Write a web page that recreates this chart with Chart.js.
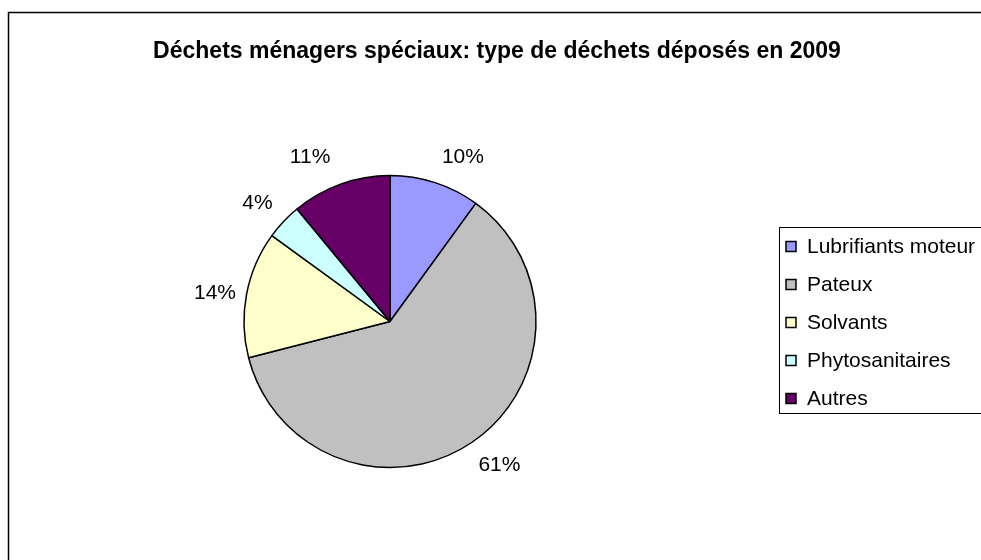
<!DOCTYPE html>
<html><head><meta charset="utf-8">
<script src="https://cdn.jsdelivr.net/npm/chart.js@4"></script>
<style>html,body{margin:0;padding:0;background:#fff;overflow:hidden}</style>
</head><body>
<canvas id="c" width="981" height="560"></canvas>
<script>
const titleText = "Déchets ménagers spéciaux: type de déchets déposés en 2009";
const categories = ["Lubrifiants moteur", "Pateux", "Solvants", "Phytosanitaires", "Autres"];
const shares = [10, 61, 14, 4, 11];
const sliceColors = ["#9999FF", "#C0C0C0", "#FFFFCC", "#CCFFFF", "#660066"];
const labelNudge = [[21, -5], [15, 5], [-10, 3], [-10, -3], [-23, -6]];

const FONT = "'Liberation Sans', Arial, sans-serif";

const deco = {
  id: 'deco',
  beforeDraw(chart) {
    const ctx = chart.ctx;
    ctx.save();
    ctx.fillStyle = '#fff';
    ctx.fillRect(0, 0, chart.width, chart.height);
    ctx.strokeStyle = '#000';
    ctx.lineWidth = 1.5;
    ctx.strokeRect(8.5, 12.5, 1200, 800);
    ctx.restore();
  },
  afterDraw(chart) {
    const ctx = chart.ctx;
    ctx.save();
    // title
    ctx.fillStyle = '#000';
    ctx.font = "bold 23px " + FONT;
    ctx.textAlign = 'center';
    ctx.textBaseline = 'alphabetic';
    ctx.fillText(titleText, 497, 58);
    // data labels
    const meta = chart.getDatasetMeta(0);
    const total = shares.reduce((a, b) => a + b, 0);
    ctx.font = "21px " + FONT;
    ctx.textBaseline = 'middle';
    meta.data.forEach((arc, i) => {
      const p = arc.getProps(['x', 'y', 'startAngle', 'endAngle', 'outerRadius'], true);
      const mid = (p.startAngle + p.endAngle) / 2;
      const r = p.outerRadius + 22;
      const lx = p.x + Math.cos(mid) * r + labelNudge[i][0];
      const ly = p.y + Math.sin(mid) * r + labelNudge[i][1];
      ctx.fillText(Math.round(shares[i] / total * 100) + '%', lx, ly);
    });
    // legend
    ctx.lineWidth = 1;
    ctx.strokeStyle = '#000';
    ctx.strokeRect(779.5, 227.5, 400, 186);
    ctx.textAlign = 'left';
    ctx.font = "21px " + FONT;
    categories.forEach((name, i) => {
      const yc = 246.5 + i * 38;
      ctx.fillStyle = sliceColors[i];
      ctx.fillRect(786, yc - 5, 10, 10);
      ctx.lineWidth = 1.5;
      ctx.strokeRect(786, yc - 5, 10, 10);
      ctx.fillStyle = '#000';
      ctx.fillText(name, 807, yc + 1);
    });
    ctx.restore();
  }
};

new Chart(document.getElementById('c'), {
  type: 'pie',
  data: {
    labels: categories,
    datasets: [{
      data: shares,
      backgroundColor: sliceColors,
      borderColor: '#000',
      borderWidth: 1.5
    }]
  },
  options: {
    responsive: false,
    animation: false,
    events: [],
    radius: 146,
    layout: { padding: { left: 100, right: 301, top: 150, bottom: 67 } },
    plugins: { legend: { display: false }, title: { display: false }, tooltip: { enabled: false } }
  },
  plugins: [deco]
});
</script>
</body></html>
